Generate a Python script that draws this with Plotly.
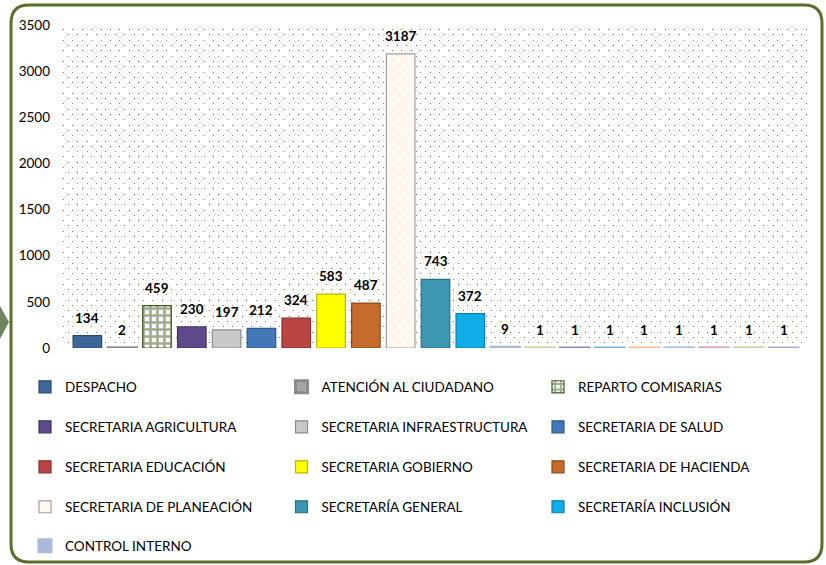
import plotly.graph_objects as go

# ---------------- data ----------------
categories = [
    "DESPACHO", "ATENCIÓN AL CIUDADANO", "REPARTO COMISARIAS",
    "SECRETARIA AGRICULTURA", "SECRETARIA INFRAESTRUCTURA", "SECRETARIA DE SALUD",
    "SECRETARIA EDUCACIÓN", "SECRETARIA GOBIERNO", "SECRETARIA DE HACIENDA",
    "SECRETARIA DE PLANEACIÓN", "SECRETARÍA GENERAL", "SECRETARÍA INCLUSIÓN",
    "CONTROL INTERNO", "OTRA 1", "OTRA 2", "OTRA 3", "OTRA 4", "OTRA 5",
    "OTRA 6", "OTRA 7", "OTRA 8",
]
values = [134, 2, 459, 230, 197, 212, 324, 583, 487, 3187, 743, 372,
          9, 1, 1, 1, 1, 1, 1, 1, 1]
colors = [
    "#3d679a", "#a6a6a6", "#ffffff", "#5e4a8a", "#c8c8c8", "#4377b8",
    "#bb4542", "#ffff00", "#c56b2b", "#fff6ee", "#3d97b2", "#10aee8",
    "#a9bbd9", "#c5d7a0", "#9383bb", "#71b6cc", "#fbbd90", "#aabbd8",
    "#d9a3a3", "#c5d7a0", "#b5a5c9",
]
edge_colors = [
    "#2a4a70", "#8a8a8a", "#3d5a1e", "#42336a", "#8c8c8c", "#2f5a8e",
    "#8a2f2d", "#b8b800", "#8d4a1b", "#a0a0a0", "#2a6e82", "#0a7fae",
    "#a9bbd9", "#c5d7a0", "#9383bb", "#71b6cc", "#fbbd90", "#aabbd8",
    "#d9a3a3", "#c5d7a0", "#b5a5c9",
]
legend_rows = [1, 1, 1, 2, 2, 2, 3, 3, 3, 4, 4, 4, 5]
y_ticks = [0, 500, 1000, 1500, 2000, 2500, 3000, 3500]

# ---------------- geometry helpers ----------------
W, H = 826, 565
ML, MR, MT, MB = 63, 18, 25, 217
PW, PH = W - ML - MR, H - MT - MB


def px_x(p):
    return (p - ML) / PW


def px_y(p):
    return (H - MB - p) / PH


FONT = "Lato, sans-serif"

fig = go.Figure()
for i, (cat, val) in enumerate(zip(categories, values)):
    tiny = val < 20
    pattern = None
    if cat == "REPARTO COMISARIAS":
        pattern = dict(shape="+", fgcolor="#3d5a1e", bgcolor="#ffffff",
                       size=7, solidity=0.6)
    elif cat == "SECRETARIA DE PLANEACIÓN":
        pattern = dict(shape="x", fgcolor="#f9cfae", bgcolor="#fffaf4",
                       size=7, solidity=0.15)
    row = legend_rows[i] if i < len(legend_rows) else None
    fig.add_trace(go.Bar(
        x=[cat], y=[val], name=cat,
        width=0.82,
        marker=dict(color=colors[i], pattern=pattern,
                    line=dict(color=edge_colors[i], width=3 if tiny else 1.2)),
        cliponaxis=False,
        showlegend=row is not None,
        legend=("legend" if row == 1 else f"legend{row}") if row else None,
        hoverinfo="x+y",
    ))
    fig.add_annotation(x=cat, y=val, text=f"<b>{val}</b>", showarrow=False,
                       yanchor="bottom", yshift=8,
                       font=dict(family=FONT, size=13.5, color="#000000"))

# invisible helper trace so that the dotted background axis is drawn
fig.add_trace(go.Scatter(x=[categories[0]], y=[0], yaxis="y2", mode="markers",
                         marker=dict(opacity=0), showlegend=False,
                         hoverinfo="skip"))

legend_y = [387, 427, 467, 507, 546]
legend_common = dict(orientation="h", xanchor="left", yanchor="middle",
                     entrywidth=211.5, entrywidthmode="pixels",
                     bgcolor="rgba(0,0,0,0)", traceorder="normal",
                     font=dict(family=FONT, size=13.5, color="#000000"))
legends = {}
for r, py in enumerate(legend_y, start=1):
    key = "legend" if r == 1 else f"legend{r}"
    legends[key] = dict(x=px_x(25), y=px_y(py), **legend_common)

# rounded border
x0, x1, y0, y1, rad = 11, 822, 5, 562, 18
path = (
    f"M {px_x(x0 + rad)} {px_y(y0)} L {px_x(x1 - rad)} {px_y(y0)} "
    f"Q {px_x(x1)} {px_y(y0)} {px_x(x1)} {px_y(y0 + rad)} "
    f"L {px_x(x1)} {px_y(y1 - rad)} "
    f"Q {px_x(x1)} {px_y(y1)} {px_x(x1 - rad)} {px_y(y1)} "
    f"L {px_x(x0 + rad)} {px_y(y1)} "
    f"Q {px_x(x0)} {px_y(y1)} {px_x(x0)} {px_y(y1 - rad)} "
    f"L {px_x(x0)} {px_y(y0 + rad)} "
    f"Q {px_x(x0)} {px_y(y0)} {px_x(x0 + rad)} {px_y(y0)} Z"
)
arrow = (f"M {px_x(0)} {px_y(306)} L {px_x(9)} {px_y(322)} "
         f"L {px_x(0)} {px_y(339)} Z")

fig.update_layout(
    width=W, height=H,
    margin=dict(l=ML, r=MR, t=MT, b=MB, autoexpand=False),
    paper_bgcolor="#ffffff", plot_bgcolor="#ffffff",
    barmode="overlay",
    font=dict(family=FONT, color="#000000"),
    xaxis=dict(range=[-0.7, len(categories) - 0.3], showticklabels=False,
               showgrid=False, zeroline=False, showline=False, ticks=""),
    yaxis=dict(range=[0, 3500], tickvals=y_ticks,
               ticktext=[str(v) for v in y_ticks],
               showgrid=False, zeroline=False, showline=False,
               ticklabelstandoff=12,
               tickfont=dict(family=FONT, size=13.5, color="#000000")),
    yaxis2=dict(overlaying="y", range=[0, 3500], showticklabels=False,
                showgrid=True, dtick=115, tick0=0, ticks="",
                gridcolor="#7f8a58", gridwidth=1, griddash="1px,8.4px",
                zeroline=False, showline=False,
                minor=dict(showgrid=True, dtick=115, tick0=57.5, ticks="",
                           gridcolor="#7f8a58", gridwidth=1,
                           griddash="0px,4.7px,1px,3.7px")),
    shapes=[
        dict(type="path", path=arrow, xref="paper", yref="paper",
             fillcolor="#6f8560", line=dict(width=0), layer="below"),
        dict(type="path", path=path, xref="paper", yref="paper",
             line=dict(color="#5a6e2c", width=3), layer="above"),
    ],
    showlegend=True,
    **legends,
)

fig.write_html("out.html",
               config={"displayModeBar": False},
               post_script="document.body.style.margin='0px';"
                           "document.body.style.overflow='hidden';")
